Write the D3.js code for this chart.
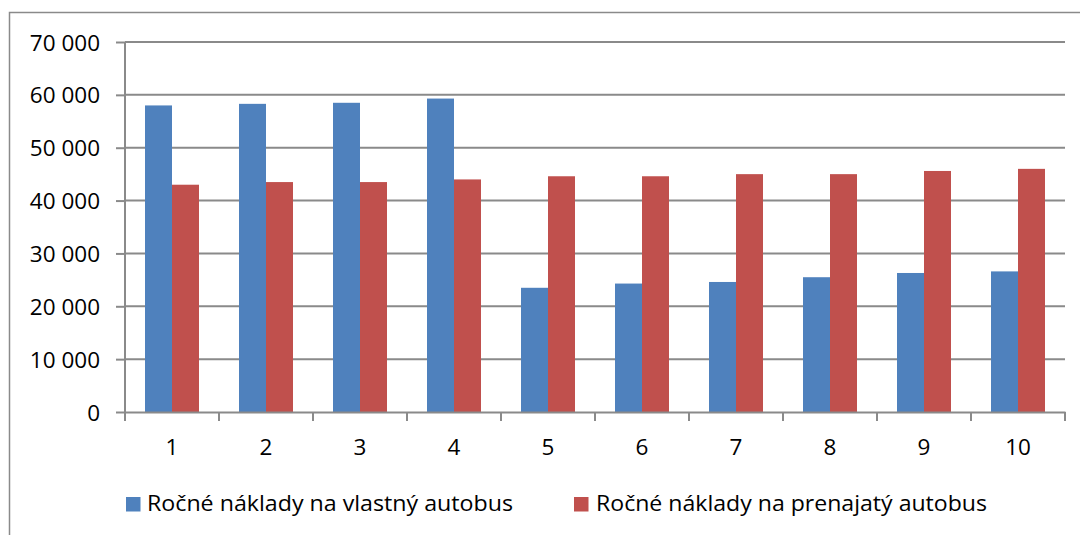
<!DOCTYPE html>
<html>
<head>
<meta charset="utf-8">
<script src="https://cdn.jsdelivr.net/npm/d3@7"></script>
<style>
  body { margin: 0; background: #fff; }
  svg { display: block; font-family: "Open Sans", Lato, sans-serif; }
</style>
</head>
<body>
<div id="chart"></div>
<script>
const categories = ['1', '2', '3', '4', '5', '6', '7', '8', '9', '10'];
const seriesNames = ['Ročné náklady na vlastný autobus', 'Ročné náklady na prenajatý autobus'];
const ownBus = [58000, 58300, 58500, 59300, 23500, 24300, 24600, 25500, 26300, 26600];
const rentedBus = [43000, 43500, 43500, 44000, 44600, 44600, 45000, 45000, 45600, 46000];
const yTicks = [0, 10000, 20000, 30000, 40000, 50000, 60000, 70000];
const colors = ['#4F81BD', '#C0504D'];

const width = 1080;
const height = 535;
const plot = { left: 125, right: 1065, top: 42, bottom: 412 };
const fontSize = 22.5;

const svg = d3.select('#chart').append('svg').attr('width', width).attr('height', height);

// outer chart border (right/bottom edges fall outside the picture)
svg
  .append('rect')
  .attr('x', 9.5)
  .attr('y', 12.5)
  .attr('width', 1100)
  .attr('height', 600)
  .attr('fill', 'none')
  .attr('stroke', '#8a8a8a')
  .attr('stroke-width', 1.5);

const x = d3.scaleBand().domain(categories).range([plot.left, plot.right]);
const inner = d3
  .scaleBand()
  .domain([0, 1])
  .range([x.bandwidth() / 2 - 27, x.bandwidth() / 2 + 27]);
const y = d3.scaleLinear().domain([0, 70000]).range([plot.bottom, plot.top]);

const fmt = d3.formatLocale({ decimal: ',', thousands: '\u00a0', grouping: [3], currency: ['', ''] }).format(',');

// horizontal grid lines
svg
  .selectAll('line.grid')
  .data(yTicks.slice(1))
  .enter()
  .append('line')
  .attr('class', 'grid')
  .attr('x1', plot.left)
  .attr('x2', plot.right)
  .attr('y1', (d) => y(d))
  .attr('y2', (d) => y(d))
  .attr('stroke', '#8a8a8a')
  .attr('stroke-width', 2);

// bars
const rows = categories.map((c, i) => ({ cat: c, values: [ownBus[i], rentedBus[i]] }));
svg
  .selectAll('g.cat')
  .data(rows)
  .enter()
  .append('g')
  .attr('transform', (d) => `translate(${x(d.cat)},0)`)
  .selectAll('rect')
  .data((d) => d.values)
  .enter()
  .append('rect')
  .attr('x', (d, i) => inner(i))
  .attr('width', inner.bandwidth())
  .attr('y', (d) => y(d))
  .attr('height', (d) => y(0) - y(d))
  .attr('fill', (d, i) => colors[i]);

// y axis
const yAxis = svg
  .append('g')
  .attr('transform', `translate(${plot.left},0)`)
  .call(d3.axisLeft(y).tickValues(yTicks).tickSize(9).tickPadding(16).tickFormat(fmt));
yAxis.select('.domain').attr('stroke', '#8a8a8a').attr('stroke-width', 2).attr('d', `M0,${plot.top}V${plot.bottom}`);
yAxis.selectAll('.tick line').attr('stroke', '#8a8a8a').attr('stroke-width', 2);
yAxis
  .selectAll('.tick text')
  .attr('font-size', fontSize)
  .attr('fill', '#000')
  .attr('font-family', 'Open Sans')
  .attr('dy', null)
  .attr('y', 8);

// x axis
const xAxis = svg
  .append('g')
  .attr('transform', `translate(0,${plot.bottom})`)
  .call(d3.axisBottom(x).tickSize(0).tickPadding(24));
xAxis.select('.domain').attr('stroke', '#8a8a8a').attr('stroke-width', 2);
xAxis
  .selectAll('.tick text')
  .attr('font-size', fontSize)
  .attr('fill', '#000')
  .attr('font-family', 'Open Sans')
  .attr('dy', null)
  .attr('y', 43);
xAxis
  .selectAll('line.sep')
  .data(d3.range(categories.length + 1))
  .enter()
  .append('line')
  .attr('class', 'sep')
  .attr('x1', (i) => plot.left + i * x.step())
  .attr('x2', (i) => plot.left + i * x.step())
  .attr('y1', 0)
  .attr('y2', 9)
  .attr('stroke', '#8a8a8a')
  .attr('stroke-width', 2);

// legend
const legendX = [126, 574];
const legendTextWidth = [366, 391];
const legend = svg
  .selectAll('g.legend')
  .data(seriesNames)
  .enter()
  .append('g')
  .attr('transform', (d, i) => `translate(${legendX[i]},497)`);
legend
  .append('rect')
  .attr('width', 14.5)
  .attr('height', 14.5)
  .attr('fill', (d, i) => colors[i]);
legend
  .append('text')
  .attr('x', (d, i) => (i === 0 ? 21 : 22))
  .attr('y', 14)
  .attr('font-size', 22)
  .attr('fill', '#000')
  .attr('textLength', (d, i) => legendTextWidth[i])
  .attr('lengthAdjust', 'spacingAndGlyphs')
  .text((d) => d);
</script>
</body>
</html>
